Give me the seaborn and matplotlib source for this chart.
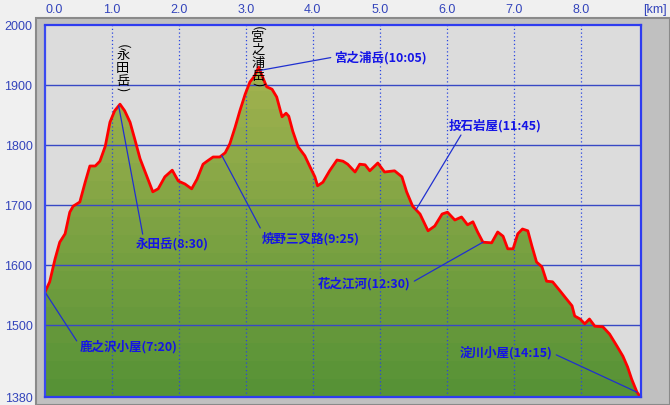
import numpy as np
import matplotlib
matplotlib.use("Agg")
import matplotlib.pyplot as plt
from matplotlib.patches import Rectangle
from matplotlib.colors import to_rgb
import seaborn as sns

# ---------------- data ----------------
dist_km = [0.00, 0.07, 0.15, 0.22, 0.30, 0.37, 0.42, 0.52, 0.60, 0.67, 0.75, 0.82, 0.90, 0.97,
           1.04, 1.12, 1.19, 1.27, 1.34, 1.42, 1.52, 1.61, 1.69, 1.79, 1.90, 1.99, 2.09, 2.19,
           2.27, 2.36, 2.42, 2.51, 2.61, 2.69, 2.76, 2.84, 2.91, 2.99, 3.06, 3.13, 3.19, 3.25,
           3.31, 3.39, 3.46, 3.54, 3.60, 3.64, 3.70, 3.78, 3.88, 3.96, 4.03, 4.07, 4.15, 4.25,
           4.36, 4.45, 4.52, 4.63, 4.70, 4.78, 4.85, 4.97, 5.07, 5.22, 5.33, 5.40, 5.49, 5.60,
           5.72, 5.82, 5.93, 6.01, 6.12, 6.22, 6.31, 6.39, 6.46, 6.54, 6.67, 6.76, 6.84, 6.91,
           6.99, 7.06, 7.13, 7.21, 7.27, 7.34, 7.42, 7.49, 7.58, 7.69, 7.79, 7.87, 7.91, 7.99,
           8.06, 8.13, 8.21, 8.33, 8.43, 8.54, 8.63, 8.70, 8.76, 8.84, 8.88]
elev_m = [1555, 1572, 1610, 1638, 1652, 1688, 1698, 1705, 1738, 1765, 1765, 1773, 1798, 1838,
          1857, 1868, 1857, 1838, 1810, 1777, 1748, 1722, 1727, 1747, 1758, 1740, 1735, 1727,
          1743, 1768, 1773, 1780, 1780, 1787, 1802, 1830, 1857, 1885, 1905, 1915, 1930, 1913,
          1897, 1893, 1880, 1847, 1853, 1848, 1823, 1797, 1782, 1763, 1747, 1732, 1738, 1757,
          1775, 1773, 1768, 1755, 1768, 1767, 1757, 1770, 1755, 1757, 1747, 1722, 1698, 1685,
          1657, 1665, 1685, 1688, 1675, 1680, 1667, 1672, 1655, 1638, 1637, 1655, 1648, 1627,
          1627, 1652, 1660, 1657, 1632, 1605, 1597, 1573, 1572, 1557, 1543, 1532, 1515, 1510,
          1502, 1510, 1498, 1497, 1485, 1465, 1448, 1430, 1410, 1388, 1382]

stop_names = ["鹿之沢小屋", "永田岳", "焼野三叉路", "宮之浦岳", "投石岩屋", "花之江河", "淀川小屋"]
stop_times = ["7:20", "8:30", "9:25", "10:05", "11:45", "12:30", "14:15"]
stop_km = [0.00, 1.10, 2.64, 3.21, 5.54, 6.54, 8.84]

peak_labels = ["永田岳", "宮之浦岳"]
peak_label_km = [1.16, 3.18]

x_ticks = [0, 1, 2, 3, 4, 5, 6, 7, 8]
x_tick_labels = ["0.0", "1.0", "2.0", "3.0", "4.0", "5.0", "6.0", "7.0", "8.0"]
y_ticks = [1380, 1500, 1600, 1700, 1800, 1900, 2000]
y_tick_labels = ["1380", "1500", "1600", "1700", "1800", "1900", "2000"]

# ---------------- style ----------------
sns.set_style("white")
CJK = ["Noto Sans CJK JP", "DejaVu Sans"]
plt.rcParams["font.family"] = CJK

W, H = 670, 406
fig = plt.figure(figsize=(W / 100, H / 100), dpi=100, facecolor="#f0f0f0")

# gray frame behind the plot
fig.patches.append(Rectangle((36 / W, 0), (W - 36) / W, (H - 19) / H, transform=fig.transFigure,
                             facecolor="#c0c0c0", edgecolor="#8a8a8a", lw=1.5, zorder=-5))

L, R, T, B = 45, 641, 26, 398
ax = fig.add_axes([L / W, (H - B) / H, (R - L) / W, (B - T) / H])
ax.set_zorder(3)
ax.set_facecolor("#dcdcdc")

XMAX, YMIN, YMAX = 8.9, 1380, 2000
ax.set_xlim(0, XMAX)
ax.set_ylim(YMIN, YMAX)


def px2data(px, py):
    return (px - L) / (R - L) * XMAX, YMAX - (py - T) / (B - T) * (YMAX - YMIN)


dist = np.array(dist_km)
elev = np.array(elev_m, dtype=float)

# banded green fill: base area, then colour bands clipped to the area
bottom_c = np.array(to_rgb("#579236"))
top_c = np.array(to_rgb("#a6b450"))
area = ax.fill_between(dist, YMIN, elev, color=bottom_c, lw=0, zorder=1)
clip_path = area.get_paths()[0]
step = 30
for lo in np.arange(YMIN, 1950, step):
    t = (lo - YMIN) / (1940 - YMIN)
    c = bottom_c * (1 - t) + top_c * t
    band = ax.axhspan(lo, lo + step, color=c, lw=0, zorder=1.1)
    band.set_clip_path(clip_path, ax.transData)

# grid
for yv in [1500, 1600, 1700, 1800, 1900]:
    ax.axhline(yv, color="#3848c4", lw=1.0, zorder=2)
for xv in x_ticks[1:]:
    ax.axvline(xv, color="#2a46e0", lw=0.9, ls=(0, (1, 2)), zorder=2)

# profile line
sns.lineplot(x=dist, y=elev, color="red", lw=2.0, ax=ax, sort=False, estimator=None, zorder=4)

# annotations
ann_layout = [  # (text px anchor, ha, relpos)
    ((80, 347), "left", (0.0, 0.5)),
    ((136, 245), "left", (0.1, 1.0)),
    ((262, 239), "left", (0.0, 1.0)),
    ((334, 58), "left", (0.0, 0.5)),
    ((449, 126), "left", (0.15, 0.0)),
    ((411, 284), "right", (1.0, 0.5)),
    ((553, 353), "right", (1.0, 0.4)),
]
blue = "#1414e6"
for name, tm, km, (pos, ha, rp) in zip(stop_names, stop_times, stop_km, ann_layout):
    e = np.interp(km, dist, elev)
    tx, ty = px2data(*pos)
    ax.annotate(f"{name}({tm})", xy=(km, e), xytext=(tx, ty), textcoords="data",
                ha=ha, va="center", color=blue, fontsize=9, fontweight="bold", family=CJK,
                arrowprops=dict(arrowstyle="-", color="#2030d0", lw=0.9, shrinkA=0, shrinkB=0,
                                relpos=rp), zorder=5)

# vertical peak labels
peak_top_px = [46.5, 28.5]
for name, km, y0 in zip(peak_labels, peak_label_km, peak_top_px):
    ys = [y0]
    y = y0 + 9
    for ch in name:
        ys.append(y)
        y += 13
    ys.append(y - 5)
    chars = ["("] + list(name) + [")"]
    for ch, py in zip(chars, ys):
        _, yd = px2data(0, py)
        rot = -90 if ch in "()" else 0
        ax.text(km, yd, ch, rotation=rot, ha="center", va="center", fontsize=9.5,
                color="black", family=CJK, zorder=6)

# axes / ticks
ax.xaxis.tick_top()
ax.set_xticks(x_ticks)
ax.set_xticklabels(x_tick_labels)
ax.set_yticks(y_ticks)
ax.set_yticklabels(y_tick_labels)
ax.tick_params(axis="both", length=0, colors="#3344bb", labelsize=9)
ax.tick_params(axis="x", pad=7)
ax.tick_params(axis="y", pad=9)
for lab in ax.get_xticklabels() + ax.get_yticklabels():
    lab.set_family("Liberation Sans")
ax.get_xticklabels()[0].set_ha("left")
ax.set_xlabel("")
ax.set_ylabel("")
fig.text(655 / W, 1 - 10 / H, "[km]", ha="center", va="center", color="#3344bb",
         fontsize=9, family="Liberation Sans")

for s in ["top", "right", "bottom"]:
    ax.spines[s].set_color("#2e3cf0")
    ax.spines[s].set_linewidth(1.6)
ax.spines["left"].set_color("#3a4af0")
ax.spines["left"].set_linewidth(1.6)
ax.spines["left"].set_linestyle((0, (1, 1)))
for s in ax.spines.values():
    s.set_zorder(7)

fig.savefig("out.png", dpi=100, facecolor=fig.get_facecolor())
